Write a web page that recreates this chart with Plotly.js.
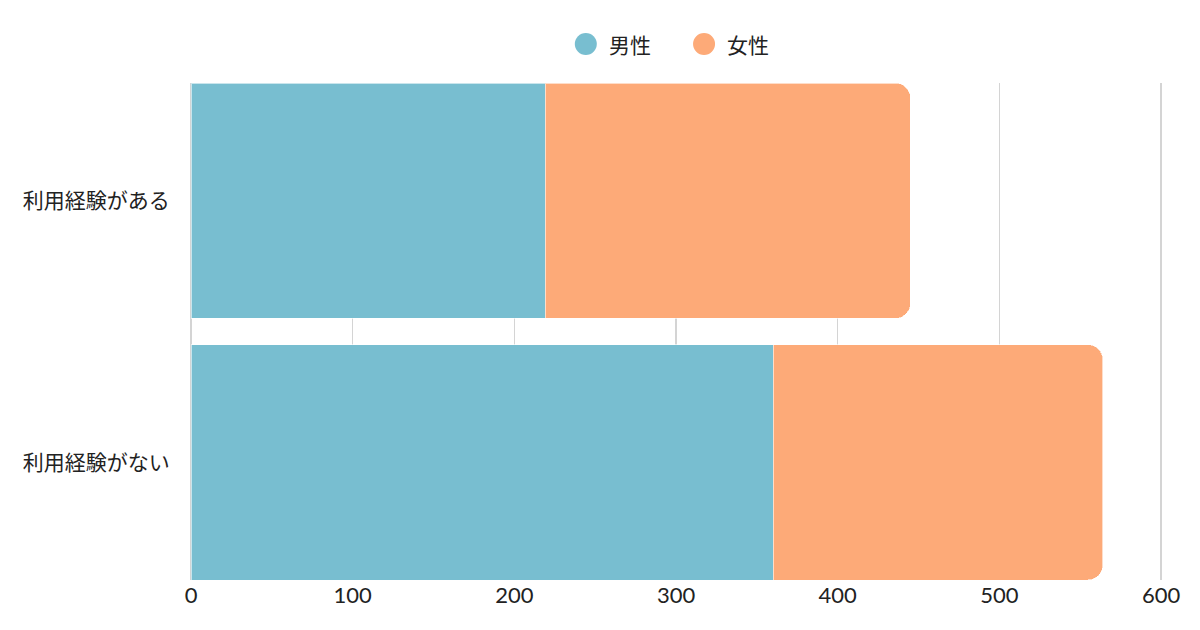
<!DOCTYPE html>
<html>
<head>
<meta charset="utf-8">
<script src="https://cdn.plot.ly/plotly-3.0.1.min.js"></script>
<style>
  html, body { margin: 0; padding: 0; background: #fff; }
  #chart { width: 1200px; height: 630px; }
</style>
</head>
<body>
<div id="chart"></div>
<script>
// categories and values
var categories = ["利用経験がある", "利用経験がない"];
var maleValues = [219, 360];
var femaleValues = [226, 204];
var seriesNames = ["男性", "女性"];
var xTicks = [0, 100, 200, 300, 400, 500, 600];

var blue = "#78BED0";
var orange = "#FDAA78";
var fontFamily = "Lato, 'Noto Sans CJK JP', sans-serif";

var male = {
    type: "bar",
    orientation: "h",
    y: categories,
    x: maleValues,
    name: seriesNames[0],
    marker: { color: blue, line: { color: "rgba(255,255,255,0.6)", width: 1 } },
    showlegend: false
};

var female = {
    type: "bar",
    orientation: "h",
    y: categories,
    x: femaleValues,
    name: seriesNames[1],
    marker: { color: orange, line: { color: "rgba(255,255,255,0.6)", width: 1 } },
    showlegend: false
};

// round legend markers drawn by hand, the built-in legend caps marker size
var legendColors = [blue, orange];
var legendX = [585, 703];   // circle centres in px
var shapes = [], annotations = [];
seriesNames.forEach(function (n, i) {
    var xp = (legendX[i] - 191) / 970;
    shapes.push({
        type: "circle", xref: "paper", yref: "paper",
        xsizemode: "pixel", ysizemode: "pixel",
        xanchor: xp, yanchor: (580 - 44) / 497,
        x0: -11, x1: 11, y0: -11, y1: 11,
        fillcolor: legendColors[i], line: { width: 0 }
    });
    annotations.push({
        xref: "paper", yref: "paper",
        x: (legendX[i] + 21 - 191) / 970, y: (580 - 44) / 497,
        xanchor: "left", yanchor: "middle",
        text: n, showarrow: false,
        font: { size: 21, color: "#222" }
    });
});

var layout = {
    width: 1200,
    height: 630,
    margin: { l: 191, r: 37, t: 83, b: 50 },
    paper_bgcolor: "#fff",
    plot_bgcolor: "#fff",
    font: { family: fontFamily, size: 18, color: "#222" },
    barmode: "stack",
    bargap: 0.1,
    barcornerradius: 15,
    showlegend: false,
    shapes: shapes,
    annotations: annotations,
    xaxis: {
        range: [0, 601.2],
        tickvals: xTicks,
        ticktext: xTicks.map(String),
        showgrid: true,
        gridcolor: "#d4d4d4",
        gridwidth: 1.5,
        zeroline: true,
        zerolinecolor: "#d4d4d4",
        zerolinewidth: 1.5,
        showline: false,
        ticks: "",
        tickfont: { size: 22, color: "#222" },
        fixedrange: true
    },
    yaxis: {
        type: "category",
        range: [1.45, -0.45],
        showgrid: false,
        zeroline: false,
        ticks: "outside",
        ticklen: 16,
        tickcolor: "rgba(0,0,0,0)",
        tickfont: { size: 21, color: "#222" },
        fixedrange: true
    }
};

Plotly.newPlot("chart", [male, female], layout, { displayModeBar: false, staticPlot: true });
</script>
</body>
</html>
